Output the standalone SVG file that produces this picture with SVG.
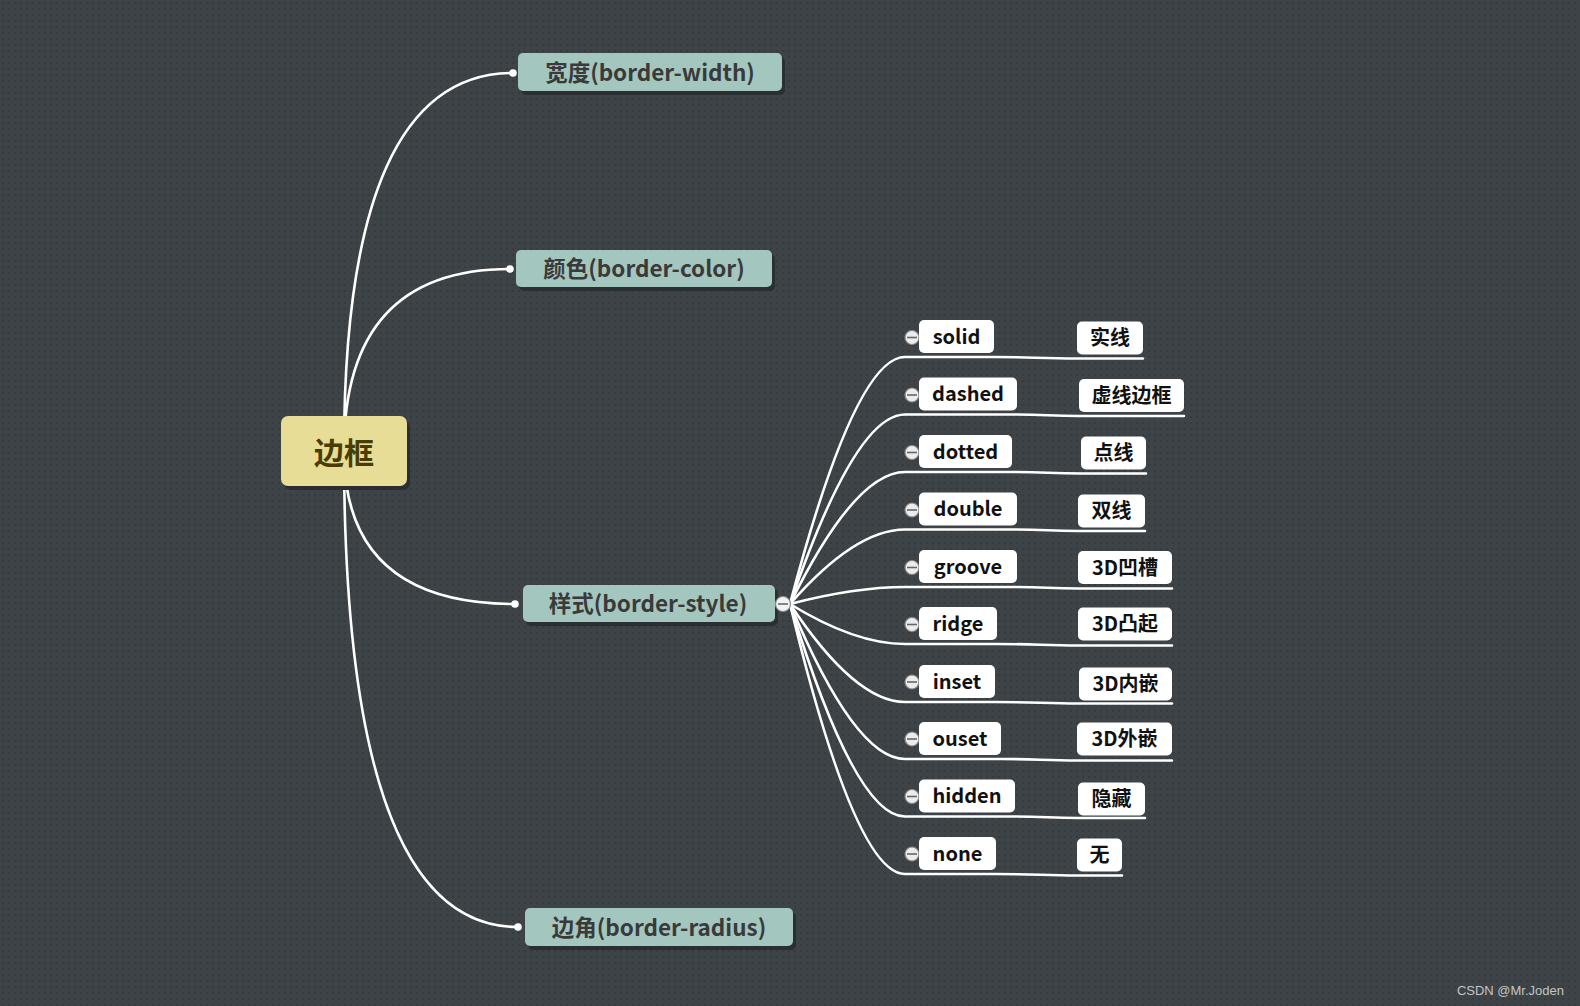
<svg xmlns="http://www.w3.org/2000/svg" width="1580" height="1006" viewBox="0 0 1580 1006">
<defs>
<pattern id="dots" width="6" height="6" patternUnits="userSpaceOnUse">
<rect width="6" height="6" fill="#3d4347"/>
<rect x="2" y="2" width="2" height="2" fill="#363b3e"/>
</pattern>
<style>
.cn{fill:none;stroke:#ffffff;stroke-width:2.6;stroke-linecap:round}
.sh{fill:#2b2f32}
.main{fill:#a3c6bf}
.mt{font-family:"Noto Sans CJK SC","Liberation Sans",sans-serif;font-weight:bold;font-size:22.5px;fill:#3a3a3a;text-anchor:middle}
.child{fill:#ffffff}
.ct{font-family:"Noto Sans CJK SC","Liberation Sans",sans-serif;font-weight:bold;font-size:20px;fill:#111111;text-anchor:middle}
.lt{font-family:"Noto Sans CJK SC","Liberation Sans",sans-serif;font-weight:bold;font-size:20px;fill:#111111;text-anchor:middle}
.dot{fill:#ffffff}
.col{fill:#ececec;stroke:#8a8a8a;stroke-width:1.2}
.minus{stroke:#666;stroke-width:1.6}
</style>
</defs>
<rect width="1580" height="1006" fill="url(#dots)"/>

<g id="connectors">
<path class="cn" d="M344 451 Q344 73 513 73"/>
<path class="cn" d="M344 451 Q344 269 510 269"/>
<path class="cn" d="M344 451 Q344 604 515 604"/>
<path class="cn" d="M344 451 Q344 927 518 927"/>
<circle class="dot" cx="513" cy="73" r="3.8"/>
<circle class="dot" cx="510" cy="269" r="3.8"/>
<circle class="dot" cx="515" cy="604" r="3.8"/>
<circle class="dot" cx="518" cy="927" r="3.8"/>

<path class="cn" d="M790 604 Q855 357 905 357 L994 357 C1030 357 1040 358.5 1077 358.5 L1143 358.5"/>
<path class="cn" d="M790 604 Q855 414.5 905 414.5 L1017 414.5 C1045 414.5 1050 416 1079 416 L1184 416"/>
<path class="cn" d="M790 604 Q855 472 905 472 L1012 472 C1045 472 1050 473.5 1081 473.5 L1146 473.5"/>
<path class="cn" d="M790 604 Q855 529.5 905 529.5 L1017 529.5 C1045 529.5 1050 531 1078 531 L1145 531"/>
<path class="cn" d="M790 604 Q855 587 905 587 L1017 587 C1045 587 1050 588.5 1078 588.5 L1172 588.5"/>
<path class="cn" d="M790 604 Q855 644 905 644 L997 644 C1035 644 1045 645.5 1078 645.5 L1172 645.5"/>
<path class="cn" d="M790 604 Q855 702 905 702 L995 702 C1035 702 1045 703.5 1079 703.5 L1172 703.5"/>
<path class="cn" d="M790 604 Q855 759 905 759 L1001 759 C1035 759 1045 760.5 1077 760.5 L1172 760.5"/>
<path class="cn" d="M790 604 Q855 816.5 905 816.5 L1015 816.5 C1045 816.5 1050 818 1078 818 L1145 818"/>
<path class="cn" d="M790 604 Q855 874 905 874 L996 874 C1035 874 1045 875.5 1077 875.5 L1122 875.5"/>
</g>

<g id="root">
<rect class="sh" x="284" y="420" width="126" height="70" rx="7"/>
<rect x="281" y="416" width="126" height="70" rx="7" fill="#e8dd97"/>
<text x="344" y="464" font-family="Noto Sans CJK SC,sans-serif" font-weight="bold" font-size="30" fill="#4a3c05" text-anchor="middle">边框</text>
</g>

<g id="n-width">
<rect class="sh" x="521" y="57" width="264" height="38" rx="5"/>
<rect class="main" x="518" y="53" width="264" height="38" rx="5"/>
<text class="mt" x="650" y="81">宽度(border-width)</text>
</g>
<g id="n-color">
<rect class="sh" x="519" y="254" width="256" height="37" rx="5"/>
<rect class="main" x="516" y="250" width="256" height="37" rx="5"/>
<text class="mt" x="644" y="277">颜色(border-color)</text>
</g>
<g id="n-style">
<rect class="sh" x="526" y="589" width="252" height="37" rx="5"/>
<rect class="main" x="523" y="585" width="252" height="37" rx="5"/>
<text class="mt" x="648" y="612">样式(border-style)</text>
<circle cx="783" cy="604" r="7.5" fill="#f2f2f2" stroke="#8a8a8a" stroke-width="1.2"/>
<line class="minus" x1="778" y1="604" x2="788" y2="604"/>
</g>
<g id="n-radius">
<rect class="sh" x="528" y="912" width="268" height="38" rx="5"/>
<rect class="main" x="525" y="908" width="268" height="38" rx="5"/>
<text class="mt" x="659" y="936">边角(border-radius)</text>
</g>

<g id="c-solid">
<circle class="col" cx="912" cy="337.5" r="7"/><line class="minus" x1="907" y1="337.5" x2="917" y2="337.5"/>
<rect class="child" x="919" y="320" width="75" height="33" rx="5"/>
<text class="ct" x="956.5" y="343.5">solid</text>
</g>
<g id="l-solid"><rect class="child" x="1077" y="321.5" width="66" height="33" rx="5"/><text class="lt" x="1110" y="345">实线</text></g>

<g id="c-dashed">
<circle class="col" cx="912" cy="395" r="7"/><line class="minus" x1="907" y1="395" x2="917" y2="395"/>
<rect class="child" x="919" y="377.5" width="98" height="33" rx="5"/>
<text class="ct" x="968" y="401">dashed</text>
</g>
<g id="l-dashed"><rect class="child" x="1079" y="379" width="105" height="33" rx="5"/><text class="lt" x="1131.5" y="402.5">虚线边框</text></g>

<g id="c-dotted">
<circle class="col" cx="912" cy="452.5" r="7"/><line class="minus" x1="907" y1="452.5" x2="917" y2="452.5"/>
<rect class="child" x="919" y="435" width="93" height="33" rx="5"/>
<text class="ct" x="965.5" y="458.5">dotted</text>
</g>
<g id="l-dotted"><rect class="child" x="1081" y="436.5" width="65" height="33" rx="5"/><text class="lt" x="1113.5" y="460">点线</text></g>

<g id="c-double">
<circle class="col" cx="912" cy="510" r="7"/><line class="minus" x1="907" y1="510" x2="917" y2="510"/>
<rect class="child" x="919" y="492.5" width="98" height="33" rx="5"/>
<text class="ct" x="968" y="516">double</text>
</g>
<g id="l-double"><rect class="child" x="1078" y="494.5" width="67" height="33" rx="5"/><text class="lt" x="1111.5" y="518">双线</text></g>

<g id="c-groove">
<circle class="col" cx="912" cy="567.5" r="7"/><line class="minus" x1="907" y1="567.5" x2="917" y2="567.5"/>
<rect class="child" x="919" y="550" width="98" height="33" rx="5"/>
<text class="ct" x="968" y="573.5">groove</text>
</g>
<g id="l-groove"><rect class="child" x="1078" y="551" width="94" height="33" rx="5"/><text class="lt" x="1125" y="574.5">3D凹槽</text></g>

<g id="c-ridge">
<circle class="col" cx="912" cy="624.5" r="7"/><line class="minus" x1="907" y1="624.5" x2="917" y2="624.5"/>
<rect class="child" x="919" y="607" width="78" height="33" rx="5"/>
<text class="ct" x="958" y="630.5">ridge</text>
</g>
<g id="l-ridge"><rect class="child" x="1078" y="607.5" width="94" height="33" rx="5"/><text class="lt" x="1125" y="631">3D凸起</text></g>

<g id="c-inset">
<circle class="col" cx="912" cy="682" r="7"/><line class="minus" x1="907" y1="682" x2="917" y2="682"/>
<rect class="child" x="919" y="665" width="76" height="33" rx="5"/>
<text class="ct" x="957" y="688.5">inset</text>
</g>
<g id="l-inset"><rect class="child" x="1079" y="667.5" width="93" height="33" rx="5"/><text class="lt" x="1125.5" y="691">3D内嵌</text></g>

<g id="c-ouset">
<circle class="col" cx="912" cy="739" r="7"/><line class="minus" x1="907" y1="739" x2="917" y2="739"/>
<rect class="child" x="919" y="722" width="82" height="33" rx="5"/>
<text class="ct" x="960" y="745.5">ouset</text>
</g>
<g id="l-ouset"><rect class="child" x="1077" y="722.5" width="95" height="33" rx="5"/><text class="lt" x="1124.5" y="746">3D外嵌</text></g>

<g id="c-hidden">
<circle class="col" cx="912" cy="796.5" r="7"/><line class="minus" x1="907" y1="796.5" x2="917" y2="796.5"/>
<rect class="child" x="919" y="779.5" width="96" height="33" rx="5"/>
<text class="ct" x="967" y="803">hidden</text>
</g>
<g id="l-hidden"><rect class="child" x="1078" y="782.5" width="67" height="33" rx="5"/><text class="lt" x="1111.5" y="806">隐藏</text></g>

<g id="c-none">
<circle class="col" cx="912" cy="854" r="7"/><line class="minus" x1="907" y1="854" x2="917" y2="854"/>
<rect class="child" x="919" y="837" width="77" height="33" rx="5"/>
<text class="ct" x="957.5" y="860.5">none</text>
</g>
<g id="l-none"><rect class="child" x="1077" y="838.5" width="45" height="33" rx="5"/><text class="lt" x="1099.5" y="862">无</text></g>

<text x="1564" y="995" font-family="Liberation Sans,Arial,sans-serif" font-size="13" fill="#c4c4c4" text-anchor="end">CSDN @Mr.Joden</text>
</svg>
